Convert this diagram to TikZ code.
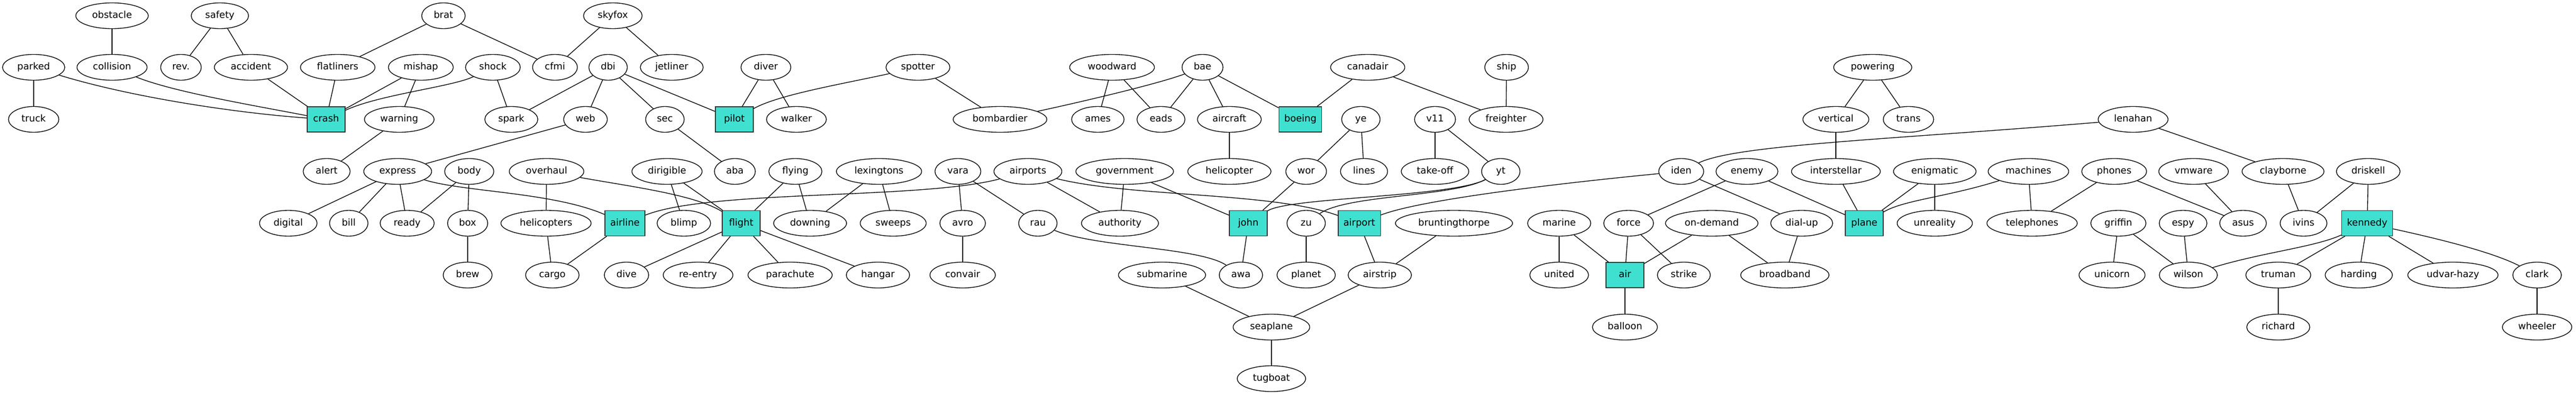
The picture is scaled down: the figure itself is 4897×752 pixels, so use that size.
\documentclass[tikz,border=0pt]{standalone}
\usepackage{fontspec}
\setmainfont{DejaVu Sans}
\usetikzlibrary{shapes.geometric}
\definecolor{turq}{HTML}{40E0D0}
\begin{document}
\begin{tikzpicture}[x=1pt,y=-1pt,
  every node/.style={font=\fontsize{18}{21.6}\selectfont, text height=13.7pt, text depth=4.3pt},
  ell/.style={ellipse, draw=black, line width=1.35pt, inner xsep=10.75pt, inner ysep=2pt, minimum width=73pt, minimum height=49pt},
  hub/.style={rectangle, draw=black!80, fill=turq, line width=1.35pt, inner xsep=10pt, minimum width=72pt, minimum height=48pt},
  edge/.style={draw=black, line width=1.35pt}]
\useasboundingbox (0,0) rectangle (4897,752);
% row 1
\node[ell] (obstacle) at (213,30) {obstacle};
\node[ell] (safety) at (418,30) {safety};
\node[ell] (brat) at (843,30) {brat};
\node[ell] (skyfox) at (1165,30) {skyfox};
% row 2
\node[ell] (parked) at (64,128) {parked};
\node[ell] (collision) at (213,128) {collision};
\node[ell] (rev) at (344,128) {rev.};
\node[ell] (accident) at (477,128) {accident};
\node[ell] (flatliners) at (642,128) {flatliners};
\node[ell] (mishap) at (800,128) {mishap};
\node[ell] (shock) at (937,128) {shock};
\node[ell] (cfmi) at (1055,128) {cfmi};
\node[ell] (dbi) at (1156,128) {dbi};
\node[ell] (jetliner) at (1277,128) {jetliner};
\node[ell] (diver) at (1456,128) {diver};
\node[ell] (spotter) at (1745,128) {spotter};
\node[ell] (woodward) at (2114,128) {woodward};
\node[ell] (bae) at (2286,128) {bae};
\node[ell] (canadair) at (2600,128) {canadair};
\node[ell] (ship) at (2864,128) {ship};
\node[ell] (powering) at (3560,128) {powering};
% row 3
\node[ell] (truck) at (64,227) {truck};
\node[hub] (crash) at (620,227) {crash};
\node[ell] (warning) at (759,227) {warning};
\node[ell] (spark) at (972,227) {spark};
\node[ell] (web) at (1113,227) {web};
\node[ell] (sec) at (1264,227) {sec};
\node[hub] (pilot) at (1396,227) {pilot};
\node[ell] (walker) at (1514,227) {walker};
\node[ell] (bombardier) at (1901,227) {bombardier};
\node[ell] (ames) at (2087,227) {ames};
\node[ell] (eads) at (2207,227) {eads};
\node[ell] (aircraft) at (2337,227) {aircraft};
\node[hub] (boeing) at (2472,227) {boeing};
\node[ell] (ye) at (2587,227) {ye};
\node[ell] (v11) at (2728,227) {v11};
\node[ell] (freighter) at (2863,227) {freighter};
\node[ell] (vertical) at (3490,227) {vertical};
\node[ell] (trans) at (3628,227) {trans};
\node[ell] (lenahan) at (4055,227) {lenahan};
% row 4
\node[ell] (alert) at (621,326) {alert};
\node[ell] (express) at (756,326) {express};
\node[ell] (body) at (892,326) {body};
\node[ell] (overhaul) at (1039,326) {overhaul};
\node[ell] (dirigible) at (1268,326) {dirigible};
\node[ell] (aba) at (1397,326) {aba};
\node[ell] (flying) at (1512,326) {flying};
\node[ell] (lexingtons) at (1671,326) {lexingtons};
\node[ell] (vara) at (1821,326) {vara};
\node[ell] (airports) at (1954,326) {airports};
\node[ell] (government) at (2138,326) {government};
\node[ell] (helicopter) at (2337,326) {helicopter};
\node[ell] (wor) at (2483,326) {wor};
\node[ell] (lines) at (2593,326) {lines};
\node[ell] (takeoff) at (2728,326) {take-off};
\node[ell] (yt) at (2853,326) {yt};
\node[ell] (iden) at (3196,326) {iden};
\node[ell] (enemy) at (3321,326) {enemy};
\node[ell] (interstellar) at (3490,326) {interstellar};
\node[ell] (enigmatic) at (3678,326) {enigmatic};
\node[ell] (machines) at (3856,326) {machines};
\node[ell] (phones) at (4019,326) {phones};
\node[ell] (vmware) at (4170,326) {vmware};
\node[ell] (clayborne) at (4340,326) {clayborne};
\node[ell] (driskell) at (4502,326) {driskell};
% row 5
\node[ell] (digital) at (548,424.5) {digital};
\node[ell] (bill) at (663,424.5) {bill};
\node[ell] (ready) at (774,424.5) {ready};
\node[ell] (box) at (889,424.5) {box};
\node[ell] (helicopters) at (1038,424.5) {helicopters};
\node[hub] (airline) at (1188,424.5) {airline};
\node[ell] (blimp) at (1300,424.5) {blimp};
\node[hub] (flight) at (1409,424.5) {flight};
\node[ell] (downing) at (1540,424.5) {downing};
\node[ell] (sweeps) at (1698,424.5) {sweeps};
\node[ell] (avro) at (1830,424.5) {avro};
\node[ell] (rau) at (1973,424.5) {rau};
\node[ell] (authority) at (2129,424.5) {authority};
\node[hub] (john) at (2373,424.5) {john};
\node[ell] (zu) at (2483,424.5) {zu};
\node[hub] (airport) at (2584,424.5) {airport};
\node[ell] (bruntingthorpe) at (2764,424.5) {bruntingthorpe};
\node[ell] (marine) at (2964,424.5) {marine};
\node[ell] (force) at (3096,424.5) {force};
\node[ell] (ondemand) at (3254,424.5) {on-demand};
\node[ell] (dialup) at (3425,424.5) {dial-up};
\node[hub] (plane) at (3544,424.5) {plane};
\node[ell] (unreality) at (3678,424.5) {unreality};
\node[ell] (telephones) at (3863,424.5) {telephones};
\node[ell] (griffin) at (4027,424.5) {griffin};
\node[ell] (espy) at (4150,424.5) {espy};
\node[ell] (asus) at (4264,424.5) {asus};
\node[ell] (ivins) at (4379,424.5) {ivins};
\node[hub] (kennedy) at (4500,424.5) {kennedy};
% row 6
\node[ell] (brew) at (889,523) {brew};
\node[ell] (cargo) at (1050,523) {cargo};
\node[ell] (dive) at (1191,523) {dive};
\node[ell] (reentry) at (1327,523) {re-entry};
\node[ell] (parachute) at (1502,523) {parachute};
\node[ell] (hangar) at (1669,523) {hangar};
\node[ell] (convair) at (1830,523) {convair};
\node[ell] (submarine) at (2209,523) {submarine};
\node[ell] (awa) at (2359,523) {awa};
\node[ell] (planet) at (2483,523) {planet};
\node[ell] (airstrip) at (2623,523) {airstrip};
\node[ell] (united) at (2964,523) {united};
\node[hub] (air) at (3089,523) {air};
\node[ell] (strike) at (3201,523) {strike};
\node[ell] (broadband) at (3393,523) {broadband};
\node[ell] (unicorn) at (4015,523) {unicorn};
\node[ell] (wilson) at (4160,523) {wilson};
\node[ell] (truman) at (4331,523) {truman};
\node[ell] (harding) at (4484,523) {harding};
\node[ell] (udvarhazy) at (4663,523) {udvar-hazy};
\node[ell] (clark) at (4823,523) {clark};
% row 7
\node[ell] (seaplane) at (2417,622) {seaplane};
\node[ell] (balloon) at (3089,622) {balloon};
\node[ell] (richard) at (4331,622) {richard};
\node[ell] (wheeler) at (4823,622) {wheeler};
% row 8
\node[ell] (tugboat) at (2417,720) {tugboat};

% edges: straight
\foreach \a/\b in {obstacle/collision, safety/rev, safety/accident, brat/flatliners, brat/cfmi,
  skyfox/cfmi, skyfox/jetliner, parked/truck, accident/crash, flatliners/crash, mishap/crash,
  mishap/warning, warning/alert, express/digital, express/bill, express/ready, web/express,
  body/ready, body/box, box/brew, shock/spark, dbi/spark, dbi/web, dbi/sec, dbi/pilot,
  diver/pilot, diver/walker, sec/aba, overhaul/helicopters, helicopters/cargo, airline/cargo,
  dirigible/blimp, dirigible/flight, flying/flight, flying/downing, lexingtons/downing,
  lexingtons/sweeps, flight/dive, flight/reentry, flight/parachute, flight/hangar,
  spotter/bombardier, woodward/ames, woodward/eads, bae/eads, bae/aircraft, bae/boeing,
  aircraft/helicopter, vara/avro, vara/rau, avro/convair, airports/authority,
  government/authority, government/john, wor/john, john/awa, canadair/boeing,
  canadair/freighter, ship/freighter, ye/wor, ye/lines, v11/takeoff, v11/yt, zu/planet,
  airport/airstrip, bruntingthorpe/airstrip, airstrip/seaplane, submarine/seaplane,
  seaplane/tugboat, marine/united, marine/air, force/air, force/strike, ondemand/air,
  air/balloon, enemy/force, iden/dialup, ondemand/broadband, dialup/broadband,
  powering/vertical, powering/trans, vertical/interstellar, enemy/plane, interstellar/plane,
  enigmatic/plane, enigmatic/unreality, machines/telephones, phones/telephones,
  lenahan/clayborne, phones/asus, vmware/asus, clayborne/ivins, driskell/ivins,
  driskell/kennedy, espy/wilson, griffin/wilson, griffin/unicorn, kennedy/truman,
  kennedy/harding, kennedy/udvarhazy, truman/richard, clark/wheeler}
  \draw[edge] (\a) -- (\b);

% edges: curved
\draw[edge] (parked) .. controls (250,185) and (450,215) .. (crash);
\draw[edge] (collision) .. controls (330,175) and (480,200) .. (crash);
\draw[edge] (shock) .. controls (860,165) and (720,180) .. (crash);
\draw[edge] (express) .. controls (880,365) and (1050,365) .. (airline);
\draw[edge] (overhaul) .. controls (1200,355) and (1320,370) .. (flight);
\draw[edge] (airline) .. controls (1350,360) and (1750,380) .. (airports);
\draw[edge] (airports) .. controls (2150,375) and (2420,365) .. (airport);
\draw[edge] (rau) .. controls (2080,470) and (2280,470) .. (awa);
\draw[edge] (yt) .. controls (2760,375) and (2450,375) .. (john);
\draw[edge] (yt) .. controls (2760,375) and (2560,370) .. (zu);
\draw[edge] (airport) .. controls (2700,380) and (2950,350) .. (iden);
\draw[edge] (iden) .. controls (3300,275) and (3600,265) .. (lenahan);
\draw[edge] (machines) .. controls (3700,375) and (3620,380) .. (plane);
\draw[edge] (kennedy) .. controls (4400,470) and (4300,480) .. (wilson);
\draw[edge] (kennedy) .. controls (4640,455) and (4740,480) .. (clark);
\draw[edge] (bae) .. controls (2200,160) and (2050,195) .. (bombardier);
\draw[edge] (spotter) .. controls (1600,160) and (1480,180) .. (pilot);
\end{tikzpicture}
\end{document}
